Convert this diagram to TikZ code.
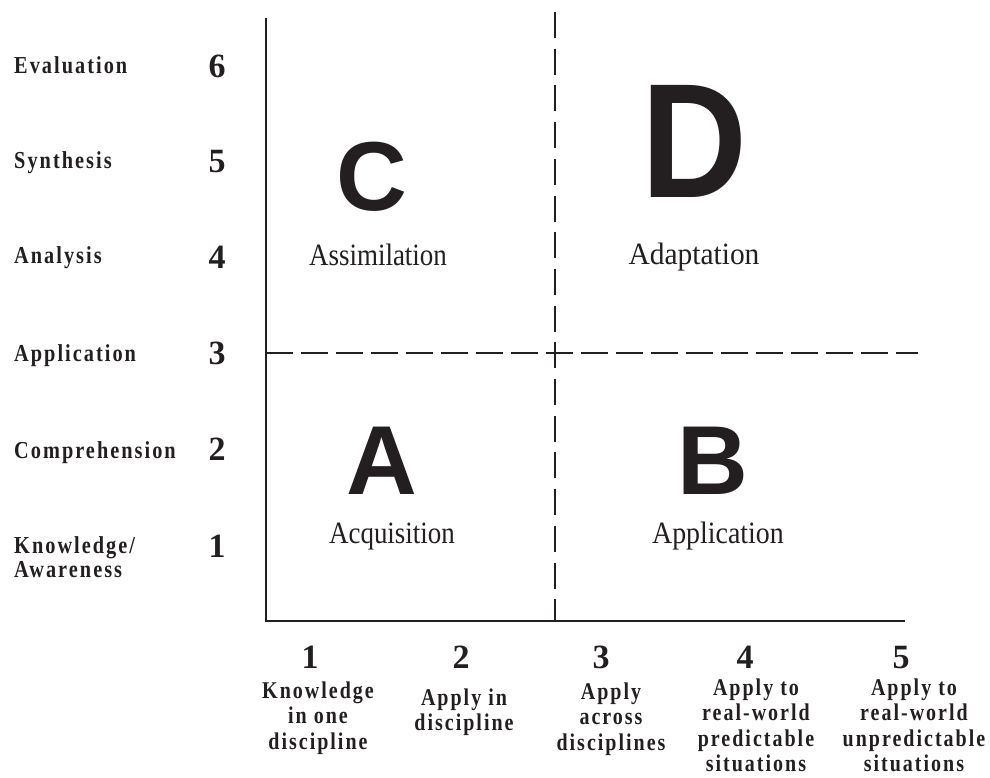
\documentclass[tikz,border=0pt]{standalone}
\usepackage{fontspec}
\usepackage{graphicx}
\setmainfont{Liberation Serif}
\newfontfamily\lblfont[LetterSpace=10]{Liberation Serif}
\newfontfamily\bigsans{Liberation Sans}
\definecolor{ink}{RGB}{35,31,32}
\newcommand{\vstretch}[1]{\scalebox{1}[1.2]{#1}}
\newcommand{\hsqueeze}[2][0.87]{\scalebox{#1}[1]{#2}}
\tikzset{
  axisline/.style={draw=ink, line width=2.4pt, line join=miter},
  vdash/.style={draw=ink, line width=2.2pt, dash pattern=on 26pt off 10.7pt},
  hdash/.style={draw=ink, line width=2.2pt, dash pattern=on 26.7pt off 8.3pt},
  leftlbl/.style={anchor=base west, inner sep=0pt, text=ink, font=\lblfont\bfseries\fontsize{20.3}{20}\selectfont},
  botlbl/.style={anchor=base, inner sep=0pt, text=ink, font=\lblfont\bfseries\fontsize{20}{21.3}\selectfont},
  numlbl/.style={anchor=base, inner sep=0pt, text=ink, font=\bfseries\fontsize{34}{34}\selectfont},
  bigletter/.style={anchor=base, inner sep=0pt, text=ink, font=\bigsans\bfseries\fontsize{98}{98}\selectfont},
  quadlbl/.style={anchor=base, inner sep=0pt, text=ink, font=\fontsize{31}{31}\selectfont},
}
\begin{document}
\begin{tikzpicture}[x=1pt,y=-1pt]
\useasboundingbox (0,0) rectangle (990,777);
% axes
\coordinate (ytop) at (266,18);
\coordinate (orig) at (266,621);
\coordinate (xend) at (905,621);
\draw[axisline] (ytop) -- (orig) -- (xend);
% dashed dividers
\coordinate (vtop) at (555,12);
\coordinate (vbot) at (555,621);
\draw[vdash] (vtop) -- (vbot);
\coordinate (hleft) at (266,353);
\coordinate (hright) at (918,353);
\draw[hdash] (hleft) -- (hright);
% left labels
\node[leftlbl] (l6) at (14,73) {\vstretch{Evaluation}};
\node[leftlbl] (l5) at (14,168) {\vstretch{Synthesis}};
\node[leftlbl] (l4) at (14,263) {\vstretch{Analysis}};
\node[leftlbl] (l3) at (14,361) {\vstretch{Application}};
\node[leftlbl] (l2) at (14,458) {\vstretch{Comprehension}};
\node[leftlbl] (l1) at (14,553) {\vstretch{\begin{tabular}[t]{@{}l@{}}Knowledge/\\Awareness\end{tabular}}};
% left numbers
\node[numlbl] (n6) at (217,77) {6};
\node[numlbl] (n5) at (217,172) {5};
\node[numlbl] (n4) at (217,268) {4};
\node[numlbl] (n3) at (217,364) {3};
\node[numlbl] (n2) at (217,460) {2};
\node[numlbl] (n1) at (217,557) {1};
% bottom numbers
\node[numlbl] (b1) at (310,668) {1};
\node[numlbl] (b2) at (461,668) {2};
\node[numlbl] (b3) at (601,668) {3};
\node[numlbl] (b4) at (745,668) {4};
\node[numlbl] (b5) at (901,668) {5};
% bottom labels
\node[botlbl] (t1) at (318,698) {\vstretch{\begin{tabular}[t]{@{}c@{}}Knowledge\\in one\\discipline\end{tabular}}};
\node[botlbl] (t2) at (464,705) {\vstretch{\begin{tabular}[t]{@{}c@{}}Apply in\\discipline\end{tabular}}};
\node[botlbl] (t3) at (611,699) {\vstretch{\begin{tabular}[t]{@{}c@{}}Apply\\across\\disciplines\end{tabular}}};
\node[botlbl] (t4) at (756,695) {\vstretch{\begin{tabular}[t]{@{}c@{}}Apply to\\real-world\\predictable\\situations\end{tabular}}};
\node[botlbl] (t5) at (914,695) {\vstretch{\begin{tabular}[t]{@{}c@{}}Apply to\\real-world\\unpredictable\\situations\end{tabular}}};
% quadrant letters
\node[bigletter] (qC) at (372,210) {C};
\node[bigletter, font=\bigsans\bfseries\fontsize{163}{163}\selectfont] (qD) at (694,197) {\scalebox{0.9}[1]{D}};
\node[bigletter] (qA) at (382,494) {A};
\node[bigletter] (qB) at (713,494) {B};
% quadrant labels
\node[quadlbl] (sC) at (378,265) {\hsqueeze{Assimilation}};
\node[quadlbl] (sD) at (694,264) {\hsqueeze[0.95]{Adaptation}};
\node[quadlbl] (sA) at (392,543) {\hsqueeze{Acquisition}};
\node[quadlbl] (sB) at (718,543) {\hsqueeze[0.9]{Application}};
\end{tikzpicture}
\end{document}
